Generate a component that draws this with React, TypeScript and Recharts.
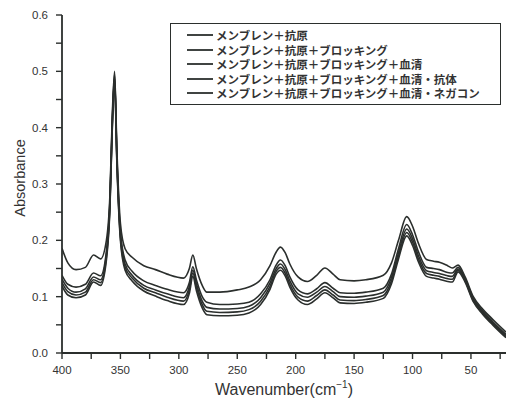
import React from "react";
import { LineChart, Line, XAxis, YAxis, Legend } from "recharts";

// wavenumber (cm-1)
const wavenumber = [
  400, 395, 388, 380, 373, 367, 362, 359, 357, 355,
  353, 350, 346, 340, 330, 320, 310, 296, 291, 288,
  285, 280, 276, 265, 250, 240, 230, 222, 217, 213,
  209, 205, 198, 190, 182, 175, 168, 162, 150, 140,
  125, 118, 112, 105, 100, 95, 88, 82, 77, 70,
  66, 61, 55, 48, 40, 31, 20,
];

const antigen = [
  0.186, 0.16, 0.148, 0.152, 0.174, 0.167, 0.2, 0.28, 0.42, 0.5,
  0.36, 0.23, 0.185, 0.17, 0.155, 0.148, 0.14, 0.133, 0.15, 0.174,
  0.15, 0.12, 0.108, 0.108, 0.112, 0.117, 0.13, 0.155, 0.178, 0.188,
  0.178, 0.158, 0.135, 0.127, 0.138, 0.151, 0.14, 0.13, 0.128, 0.13,
  0.138, 0.16, 0.2, 0.242, 0.225, 0.195, 0.166, 0.163, 0.161, 0.155,
  0.151, 0.156, 0.135, 0.1, 0.078, 0.059, 0.037,
];

const blocking = [
  0.138, 0.122, 0.117, 0.122, 0.142, 0.137, 0.18, 0.27, 0.41, 0.495,
  0.35, 0.215, 0.165, 0.145, 0.128, 0.12, 0.113, 0.107, 0.125, 0.153,
  0.13, 0.1, 0.09, 0.086, 0.087, 0.09, 0.105, 0.13, 0.155, 0.165,
  0.155, 0.135, 0.112, 0.105, 0.114, 0.125, 0.115, 0.107, 0.106, 0.108,
  0.115, 0.14, 0.185, 0.228, 0.21, 0.18, 0.152, 0.15, 0.148, 0.143,
  0.142, 0.152, 0.132, 0.097, 0.075, 0.055, 0.033,
];

const serum = [
  0.131, 0.115, 0.108, 0.114, 0.135, 0.13, 0.175, 0.265, 0.405, 0.49,
  0.345, 0.21, 0.158, 0.138, 0.12, 0.112, 0.105, 0.098, 0.118, 0.147,
  0.123, 0.092, 0.081, 0.078, 0.079, 0.083, 0.098, 0.124, 0.149, 0.158,
  0.148, 0.128, 0.105, 0.099, 0.108, 0.118, 0.109, 0.1, 0.099, 0.101,
  0.108, 0.134, 0.178, 0.22, 0.203, 0.173, 0.146, 0.143, 0.141, 0.137,
  0.136, 0.149, 0.13, 0.095, 0.073, 0.053, 0.031,
];

const antibody = [
  0.125, 0.109, 0.103, 0.108, 0.13, 0.125, 0.17, 0.26, 0.4, 0.487,
  0.34, 0.205, 0.152, 0.133, 0.115, 0.107, 0.099, 0.092, 0.112, 0.142,
  0.117, 0.086, 0.074, 0.072, 0.073, 0.077, 0.092, 0.118, 0.144, 0.152,
  0.142, 0.122, 0.099, 0.092, 0.102, 0.112, 0.103, 0.094, 0.093, 0.095,
  0.102, 0.128, 0.172, 0.214, 0.197, 0.167, 0.141, 0.138, 0.136, 0.132,
  0.131, 0.147, 0.128, 0.093, 0.071, 0.051, 0.029,
];

const negative = [
  0.119, 0.103, 0.098, 0.103, 0.126, 0.12, 0.165, 0.255, 0.395, 0.483,
  0.335, 0.2, 0.147, 0.128, 0.11, 0.101, 0.093, 0.086, 0.106, 0.136,
  0.111, 0.08, 0.068, 0.066, 0.067, 0.071, 0.086, 0.113, 0.139, 0.147,
  0.137, 0.117, 0.094, 0.086, 0.096, 0.107, 0.098, 0.089, 0.088, 0.09,
  0.097, 0.123, 0.167, 0.208, 0.191, 0.162, 0.136, 0.133, 0.131, 0.127,
  0.126, 0.144, 0.126, 0.091, 0.069, 0.049, 0.027,
];

const seriesNames = [
  "メンブレン＋抗原",
  "メンブレン＋抗原＋ブロッキング",
  "メンブレン＋抗原＋ブロッキング＋血清",
  "メンブレン＋抗原＋ブロッキング＋血清・抗体",
  "メンブレン＋抗原＋ブロッキング＋血清・ネガコン",
];
const seriesKeys = ["antigen", "blocking", "serum", "antibody", "negative"];

const xTicks = [400, 375, 350, 325, 300, 275, 250, 225, 200, 175, 150, 125, 100, 75, 50, 25];
const yTicks = [0, 0.05, 0.1, 0.15, 0.2, 0.25, 0.3, 0.35, 0.4, 0.45, 0.5, 0.55, 0.6];

const data = wavenumber.map((wn, i) => ({
  wn,
  antigen: antigen[i],
  blocking: blocking[i],
  serum: serum[i],
  antibody: antibody[i],
  negative: negative[i],
}));

const ink = "#2b2f2d";
const tickFont = "'Liberation Sans', Arial, sans-serif";

// tick line is drawn by recharts (tickSize 6); these only place the labels
function XTick(props: any) {
  const x = Number(props.x);
  const y = Number(props.y);
  const v = Number(props.payload.value);
  if (v % 50 !== 0) return <g />;
  return (
    <text x={x} y={y + 15} textAnchor="middle" fontSize={11.5} fontFamily={tickFont} fill="#333">
      {v}
    </text>
  );
}

function YTick(props: any) {
  const x = Number(props.x);
  const y = Number(props.y);
  const v = Number(props.payload.value);
  if (Math.round(v * 100) % 10 !== 0) return <g />;
  return (
    <text x={x - 8} y={y + 4} textAnchor="end" fontSize={11.5} fontFamily={tickFont} fill="#333">
      {v.toFixed(1)}
    </text>
  );
}

function XTitle(props: any) {
  const { viewBox } = props;
  return (
    <text
      x={viewBox.x + viewBox.width / 2}
      y={viewBox.y + 42}
      textAnchor="middle"
      fontSize={16}
      fontFamily={tickFont}
      fill="#333"
    >
      Wavenumber(cm
      <tspan dy={-7} fontSize={10}>−1</tspan>
      <tspan dy={7}>)</tspan>
    </text>
  );
}

function YTitle(props: any) {
  const { viewBox } = props;
  const cx = 20;
  const cy = viewBox.y + viewBox.height / 2 - 6;
  return (
    <text
      x={cx}
      y={cy}
      transform={`rotate(-90 ${cx} ${cy})`}
      textAnchor="middle"
      dominantBaseline="central"
      fontSize={14.5}
      fontFamily={tickFont}
      fill="#333"
    >
      Absorbance
    </text>
  );
}

function LegendBox(props: any) {
  const items = [...(props.payload || [])].sort(
    (a: any, b: any) => seriesNames.indexOf(a.value) - seriesNames.indexOf(b.value)
  );
  return (
    <div
      style={{
        border: `1.5px solid ${ink}`,
        padding: "4px 0 6px 0",
        background: "#fff",
        boxSizing: "border-box",
        width: 331,
        minWidth: 331,
        height: 82,
      }}
    >
      {items.map((entry: any) => (
        <div key={entry.value} style={{ display: "flex", alignItems: "center", height: 14.5 }}>
          <svg width={45} height={10} style={{ flexShrink: 0 }}>
            <line x1={16} y1={5} x2={42} y2={5} stroke={ink} strokeWidth={1.8} />
          </svg>
          <span
            style={{
              fontFamily: "'Noto Sans CJK JP', sans-serif",
              fontWeight: 700,
              fontSize: 11.5,
              color: "#333",
              whiteSpace: "nowrap",
              lineHeight: "14px",
            }}
          >
            {entry.value}
          </span>
        </div>
      ))}
    </div>
  );
}

export default function App() {
  return (
    <div style={{ position: "absolute", left: 0, top: 0, background: "#fff" }}>
      <LineChart width={506} height={398} data={data} margin={{ top: 15, right: 0, left: 0, bottom: 0 }}>
        <XAxis
          dataKey="wn"
          type="number"
          domain={[20, 400]}
          reversed
          allowDataOverflow
          ticks={xTicks}
          interval={0}
          tickSize={6}
          tickMargin={0}
          tickLine={{ stroke: ink, strokeWidth: 1.4 }}
          tick={<XTick />}
          height={45}
          stroke={ink}
          strokeWidth={1.8}
          label={<XTitle />}
        />
        <YAxis
          type="number"
          domain={[0, 0.6]}
          ticks={yTicks}
          interval={0}
          tickSize={6}
          tickMargin={0}
          tickLine={{ stroke: ink, strokeWidth: 1.4 }}
          tick={<YTick />}
          width={62}
          stroke={ink}
          strokeWidth={1.8}
          label={<YTitle />}
        />
        <Legend
          layout="vertical"
          align="center"
          verticalAlign="middle"
          content={<LegendBox />}
          wrapperStyle={{ left: 170, top: 23, width: 331, height: 82 }}
        />
        {seriesKeys.map((key, i) => (
          <Line
            key={key}
            dataKey={key}
            name={seriesNames[i]}
            type="monotone"
            stroke={ink}
            strokeWidth={1.6}
            dot={false}
            isAnimationActive={false}
          />
        ))}
      </LineChart>
    </div>
  );
}
